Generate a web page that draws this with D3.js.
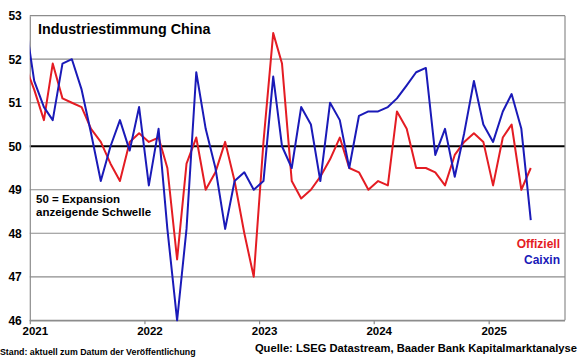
<!DOCTYPE html>
<html><head><meta charset="utf-8">
<script src="https://cdn.jsdelivr.net/npm/d3@7"></script>
<style>
html,body{margin:0;padding:0;background:#fff;}
svg{display:block;font-family:"Liberation Sans",Arial,sans-serif;font-weight:bold;}
</style></head>
<body>
<svg id="c" width="580" height="359"></svg>
<script>
// Monthly PMI values, Dec 2020 .. May 2025
const startYear = 2020, startMonth = 11; // Dec 2020
const offiziell = [51.9,
  51.3,50.6,51.9,51.1,51.0,50.9,50.4,50.1,49.6,49.2,50.1,50.3,
  50.1,50.2,49.5,47.4,49.6,50.2,49.0,49.4,50.1,49.2,48.0,47.0,
  50.1,52.6,51.9,49.2,48.8,49.0,49.3,49.7,50.2,49.5,49.4,49.0,
  49.2,49.1,50.8,50.4,49.5,49.5,49.4,49.1,49.8,50.1,50.3,50.1,
  49.1,50.2,50.5,49.0,49.5];
const caixin = [53.0,
  51.5,50.9,50.6,51.9,52.0,51.3,50.3,49.2,50.0,50.6,49.9,50.9,
  49.1,50.4,48.1,46.0,48.1,51.7,50.4,49.5,48.1,49.2,49.4,49.0,
  49.2,51.6,50.0,49.5,50.9,50.5,49.2,51.0,50.6,49.5,50.7,50.8,
  50.8,50.9,51.1,51.4,51.7,51.8,49.8,50.4,49.3,50.3,51.5,50.5,
  50.1,50.8,51.2,50.4,48.3];
const yTicks = [46,47,48,49,50,51,52,53];
const xTickYears = [2021,2022,2023,2024,2025];
const threshold = 50;
const title = "Industriestimmung China";
const note = ["50 = Expansion","anzeigende Schwelle"];
const seriesNames = ["Offiziell","Caixin"];
const footerLeft = "Stand: aktuell zum Datum der Veröffentlichung";
const footerRight = "Quelle: LSEG Datastream, Baader Bank Kapitalmarktanalyse";

const dates = offiziell.map((_, i) => new Date(startYear, startMonth + i, 15));

const svg = d3.select("#c");
const L = 29.8, R = 565, T = 15.7, B = 320.3;
const x = d3.scaleTime().domain([new Date(2021,0,1), new Date(2025,8,1)]).range([L, R]);
const y = d3.scaleLinear().domain([46,53]).range([B, T]);

svg.append("defs").append("clipPath").attr("id","clip")
  .append("rect").attr("x",L).attr("y",0).attr("width",R-L).attr("height",359);

// gridlines
svg.append("g").selectAll("line").data(yTicks).join("line")
  .attr("x1",L).attr("x2",R).attr("y1",d=>y(d)).attr("y2",d=>y(d))
  .attr("stroke",d=>d===threshold?"#000":"#8c8c8c")
  .attr("stroke-width",d=>d===threshold?2:1.2);

// right border
svg.append("line").attr("x1",R).attr("x2",R).attr("y1",T).attr("y2",B)
  .attr("stroke","#8c8c8c").attr("stroke-width",1.2);

// y axis
const yAxis = svg.append("g").attr("transform",`translate(${L},0)`)
  .call(d3.axisLeft(y).tickValues(yTicks).tickSize(0).tickPadding(8).tickFormat(d3.format("d")));
yAxis.select(".domain").attr("stroke","#8c8c8c").attr("stroke-width",1.2);
yAxis.selectAll("text").attr("font-size",12).attr("font-family","Liberation Sans, Arial, sans-serif")
  .attr("font-weight","bold").attr("fill","#000");

// x axis
const xAxis = svg.append("g").attr("transform",`translate(0,${B})`)
  .call(d3.axisBottom(x).tickValues(xTickYears.map(yy=>new Date(yy,0,1))).tickSize(4).tickPadding(3)
    .tickFormat(d3.timeFormat("%Y")));
xAxis.select(".domain").attr("stroke","#8c8c8c").attr("stroke-width",1.2).attr("d",`M${L},0.5H${R}`);
xAxis.selectAll(".tick line").attr("stroke","#8c8c8c").attr("stroke-width",1.2);
xAxis.selectAll("text").attr("font-size",11.5).attr("font-family","Liberation Sans, Arial, sans-serif")
  .attr("font-weight","bold").attr("fill","#000").attr("dx",5);

// lines
const line = vals => d3.line().x((d,i)=>x(dates[i])).y(d=>y(d))(vals);
const g = svg.append("g").attr("clip-path","url(#clip)");
g.append("path").attr("d",line(offiziell)).attr("fill","none").attr("stroke","#e41c23")
  .attr("stroke-width",2).attr("stroke-linejoin","round");
g.append("path").attr("d",line(caixin)).attr("fill","none").attr("stroke","#1a1ab8")
  .attr("stroke-width",2).attr("stroke-linejoin","round");

// title
svg.append("text").attr("x",38).attr("y",34).attr("font-size",14.3).text(title);
// note
svg.append("text").attr("x",36).attr("y",203).attr("font-size",11.5)
  .selectAll("tspan").data(note).join("tspan").attr("x",36).attr("dy",(d,i)=>i?13:0).text(d=>d);
// legend
svg.append("text").attr("x",560).attr("y",248).attr("text-anchor","end").attr("font-size",12)
  .attr("fill","#e41c23").text(seriesNames[0]);
svg.append("text").attr("x",560).attr("y",264).attr("text-anchor","end").attr("font-size",12)
  .attr("fill","#1a1ab8").text(seriesNames[1]);
// footers
svg.append("text").attr("x",0).attr("y",355).attr("font-size",8.8).text(footerLeft);
svg.append("text").attr("x",577).attr("y",352).attr("text-anchor","end").attr("font-size",11.2).text(footerRight);
</script>
</body></html>
